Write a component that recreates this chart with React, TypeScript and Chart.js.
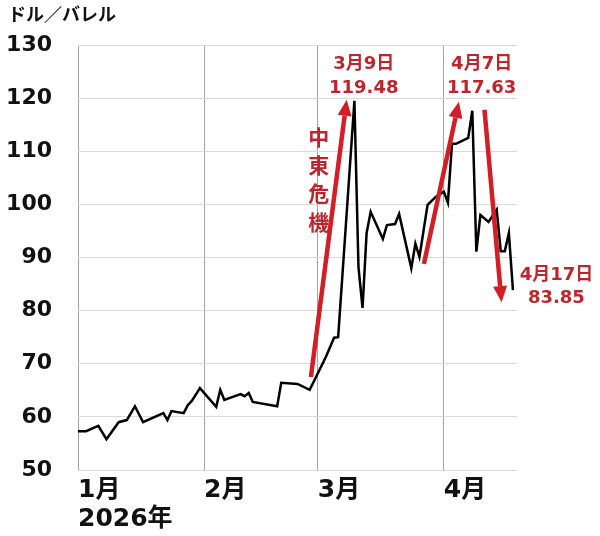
import React, { useEffect, useRef } from "react";
import { Chart, registerables } from "chart.js";

Chart.register(...registerables);

// Day index counted from 1 January 2026 (= 0)
const days = [
  0, 2, 5, 7, 10, 12, 14, 16, 21, 22, 23, 26, 27, 28, 30,
  34, 35, 36, 40, 41, 42, 43, 49, 50, 54, 57,
  61, 63, 64, 68, 69, 70, 71, 72, 75, 76, 78, 79, 82, 83, 84, 86, 88,
  90, 91, 92, 93, 96, 97, 98, 99, 101, 103, 104, 105, 106, 107,
];
// WTI crude price, dollars per barrel
const prices = [
  57.3, 57.3, 58.3, 55.8, 59.0, 59.4, 62.0, 59.0, 60.7, 59.4, 61.1, 60.7, 62.2, 63.0, 65.4,
  61.9, 65.1, 63.2, 64.3, 63.9, 64.5, 62.8, 62.0, 66.4, 66.2, 65.1,
  71.3, 74.9, 75.0, 119.48, 88.2, 80.5, 94.6, 98.6, 93.5, 96.1, 96.3, 98.2, 88.0, 92.6, 90.1, 99.9, 101.4,
  102.4, 100.3, 111.4, 111.4, 112.5, 117.63, 91.1, 98.0, 96.7, 99.0, 91.2, 91.2, 94.6, 83.85,
];

const monthTickDays = [0, 31, 59, 90];
const monthLabels: (string | string[])[] = [["1月", "2026年"], "2月", "3月", "4月"];
const xMax = 108;
const yMin = 50;
const yMax = 130;
const yStep = 10;
const unitLabel = "ドル／バレル";

// Annotation arrows in data units: [day, price]
const arrowFrom = [
  [57.3, 67.5],
  [85.1, 88.8],
  [100.0, 117.8],
];
const arrowTo = [
  [66.1, 119.7],
  [93.7, 119.3],
  [104.2, 81.6],
];

// Callouts: anchor day, price of each line
const calloutTexts = [
  ["3月9日", "119.48"],
  ["4月7日", "117.63"],
  ["4月17日", "83.85"],
];
const calloutDays = [70.3, 99.3, 117.7];
const calloutPrices = [
  [126.3, 121.9],
  [126.3, 121.9],
  [86.7, 82.4],
];

const verticalText = ["中", "東", "危", "機"];
const verticalDay = 59.2;
const verticalPrices = [112.7, 107.4, 102.1, 96.7];

const RED_ARROW = "#d01f26";
const RED_TEXT = "#b9272d";

const annotationPlugin = {
  id: "annotations",
  afterDraw(chart: any) {
    const { ctx, scales } = chart;
    const xs = scales.x;
    const ys = scales.y;
    ctx.save();
    // unit label
    ctx.fillStyle = "#111";
    ctx.font = 'bold 18px "Noto Sans CJK JP", sans-serif';
    ctx.textAlign = "left";
    ctx.textBaseline = "middle";
    ctx.fillText(unitLabel, 8, 14);

    // arrows
    for (let i = 0; i < arrowFrom.length; i++) {
      const x1 = xs.getPixelForValue(arrowFrom[i][0]);
      const y1 = ys.getPixelForValue(arrowFrom[i][1]);
      const x2 = xs.getPixelForValue(arrowTo[i][0]);
      const y2 = ys.getPixelForValue(arrowTo[i][1]);
      const ang = Math.atan2(y2 - y1, x2 - x1);
      const headLen = 16;
      const headHalf = 7;
      const bx = x2 - headLen * Math.cos(ang);
      const by = y2 - headLen * Math.sin(ang);
      ctx.strokeStyle = RED_ARROW;
      ctx.fillStyle = RED_ARROW;
      ctx.lineWidth = 4.5;
      ctx.lineCap = "butt";
      ctx.beginPath();
      ctx.moveTo(x1, y1);
      ctx.lineTo(bx, by);
      ctx.stroke();
      ctx.beginPath();
      ctx.moveTo(x2, y2);
      ctx.lineTo(bx + headHalf * Math.sin(ang), by - headHalf * Math.cos(ang));
      ctx.lineTo(bx - headHalf * Math.sin(ang), by + headHalf * Math.cos(ang));
      ctx.closePath();
      ctx.fill();
    }

    // callouts
    ctx.fillStyle = RED_TEXT;
    ctx.textAlign = "center";
    ctx.textBaseline = "middle";
    ctx.font = 'bold 18px "DejaVu Sans", "Noto Sans CJK JP", sans-serif';
    for (let i = 0; i < calloutTexts.length; i++) {
      const cx = xs.getPixelForValue(calloutDays[i]);
      for (let j = 0; j < calloutTexts[i].length; j++) {
        ctx.fillText(calloutTexts[i][j], cx, ys.getPixelForValue(calloutPrices[i][j]));
      }
    }

    // vertical text
    ctx.font = 'bold 21px "Noto Sans CJK JP", sans-serif';
    const vx = xs.getPixelForValue(verticalDay);
    for (let k = 0; k < verticalText.length; k++) {
      ctx.fillText(verticalText[k], vx, ys.getPixelForValue(verticalPrices[k]));
    }
    ctx.restore();
  },
};

export default function App() {
  const ref = useRef<HTMLCanvasElement | null>(null);
  useEffect(() => {
    document.body.style.margin = "0";
    const canvas = ref.current;
    if (!canvas) return;
    const chart = new Chart(canvas, {
      type: "line",
      data: {
        datasets: [
          {
            data: days.map((d, i) => ({ x: d, y: prices[i] })),
            borderColor: "#000000",
            borderWidth: 2.5,
            pointRadius: 0,
            tension: 0,
            fill: false,
          },
        ],
      },
      options: {
        animation: false,
        responsive: false,
        devicePixelRatio: 1,
        layout: { padding: { top: 45, right: 83, bottom: 0, left: 0 } },
        plugins: {
          legend: { display: false },
          tooltip: { enabled: false },
          title: { display: false },
        },
        scales: {
          x: {
            type: "linear",
            min: 0,
            max: xMax,
            afterBuildTicks: (scale: any) => {
              scale.ticks = monthTickDays.map((v) => ({ value: v }));
            },
            afterFit: (scale: any) => {
              scale.height = 66;
            },
            grid: { color: "#a3a3a3", lineWidth: 1, drawTicks: false },
            border: { display: false },
            ticks: {
              autoSkip: false,
              maxRotation: 0,
              align: "start",
              padding: 6,
              color: "#111",
              font: { family: '"DejaVu Sans", "Noto Sans CJK JP", sans-serif', size: 25, weight: "bold", lineHeight: 1.16 },
              callback: (_v: any, i: number) => monthLabels[i],
            },
          },
          y: {
            min: yMin,
            max: yMax,
            afterFit: (scale: any) => {
              scale.width = 78;
            },
            grid: { color: "#d9d9d9", lineWidth: 1, drawTicks: false },
            border: { display: false },
            ticks: {
              stepSize: yStep,
              padding: 26,
              color: "#111",
              font: { family: '"DejaVu Sans", sans-serif', size: 22, weight: "bold" },
            },
          },
        },
      },
      plugins: [annotationPlugin],
    } as any);
    return () => chart.destroy();
  }, []);
  return (
    <div style={{ width: 600, height: 536 }}>
      <canvas ref={ref} width={600} height={536} style={{ display: "block" }} />
    </div>
  );
}
